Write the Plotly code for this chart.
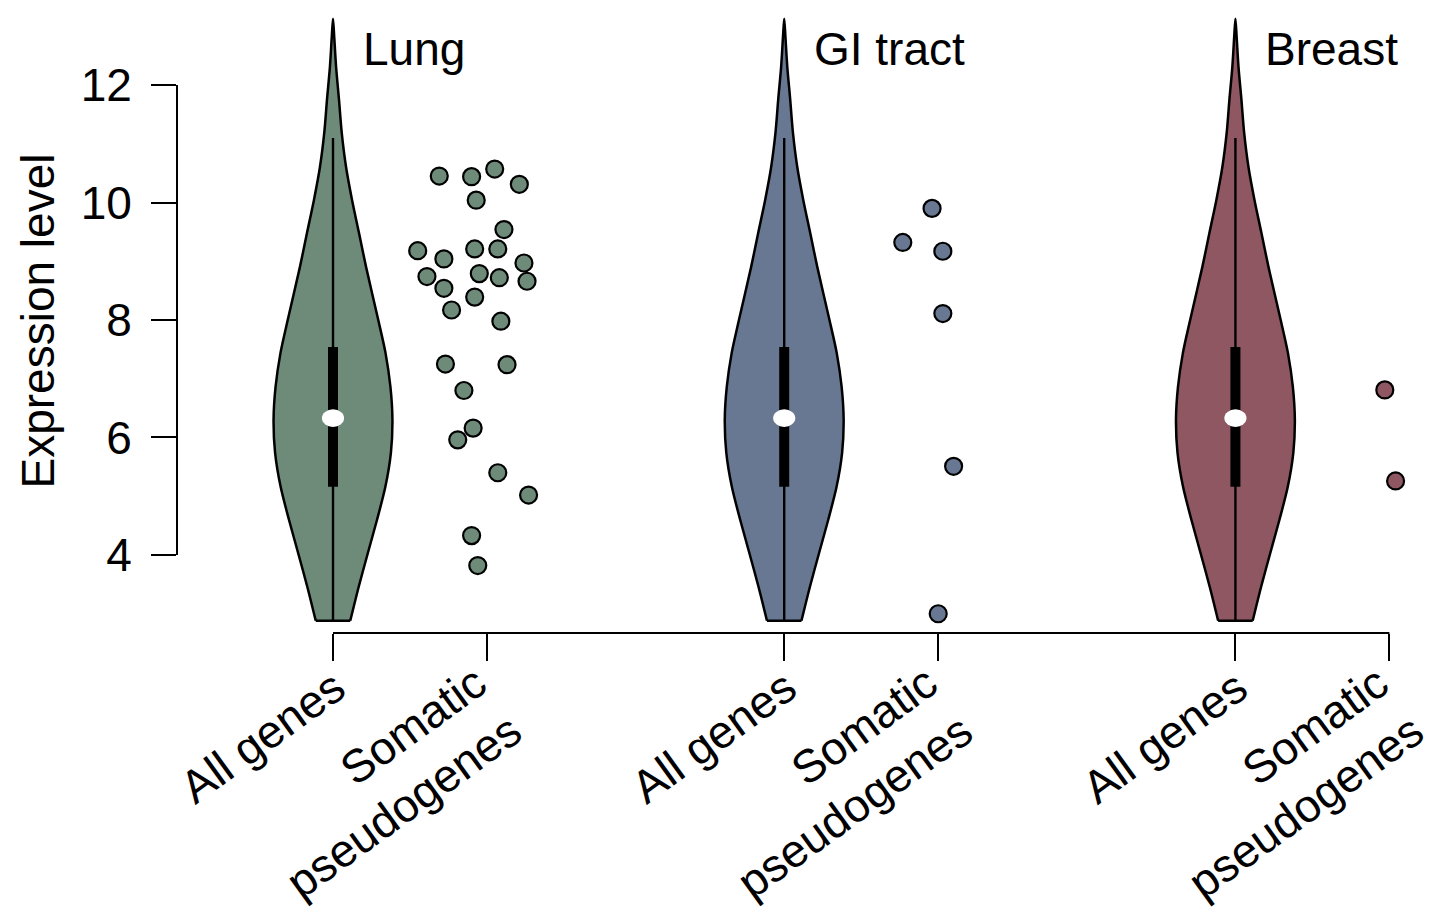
import plotly.graph_objects as go

# ---- data -------------------------------------------------------------
tissues = ["Lung", "GI tract", "Breast"]
group_labels = ["All genes", "Somatic<br>pseudogenes"]
pos_all = [1.0, 3.93, 6.86]        # x position of the "All genes" violin per tissue
pos_som = [2.0, 4.93, 7.86]        # x position of the somatic pseudogene points
fill_colors = ["#6E8B7A", "#697892", "#8E5762"]

# violin outline: expression level and half-width of the density (x units)
violin_level = [2.88, 3.46, 4.03, 4.60, 5.16, 5.74, 6.30, 6.86, 7.44, 8.00,
                8.90, 9.48, 10.04, 10.60, 11.18, 11.75, 12.31, 12.82, 13.13]
violin_halfwidth = [0.112, 0.167, 0.226, 0.286, 0.340, 0.376, 0.386, 0.373, 0.341, 0.294,
                    0.215, 0.169, 0.124, 0.085, 0.057, 0.039, 0.020, 0.008, 0.0]

# box summary for all genes
q1, median, q3 = 5.16, 6.33, 7.54
whisker_low, whisker_high = 2.88, 11.10

# somatic pseudogenes: expression level and horizontal jitter
lung_values = [10.45, 10.44, 10.57, 10.31, 10.04, 9.54, 9.18, 9.21, 9.21, 9.04,
               8.97, 8.74, 8.79, 8.72, 8.66, 8.54, 8.39, 8.17, 7.98, 7.25,
               7.24, 6.80, 6.16, 5.96, 5.40, 5.02, 4.33, 3.82]
lung_jitter = [-0.31, -0.10, 0.05, 0.21, -0.07, 0.11, -0.45, -0.08, 0.07, -0.28,
               0.24, -0.39, -0.05, 0.08, 0.26, -0.28, -0.08, -0.23, 0.09, -0.27,
               0.13, -0.15, -0.09, -0.19, 0.07, 0.27, -0.10, -0.06]
gi_values = [9.90, 9.32, 9.17, 8.11, 5.51, 3.00]
gi_jitter = [-0.04, -0.23, 0.03, 0.03, 0.10, 0.00]
breast_values = [6.81, 5.26]
breast_jitter = [-0.03, 0.04]

yticks = [4, 6, 8, 10, 12]

point_values = [lung_values, gi_values, breast_values]
point_jitter = [lung_jitter, gi_jitter, breast_jitter]

FONT = "Liberation Sans, Arial, Helvetica, sans-serif"
FS = 46

fig = go.Figure()

for i, tissue in enumerate(tissues):
    c = pos_all[i]
    col = fill_colors[i]
    # violin body: right side upward, then left side downward (open at the bottom)
    xs = [c + w for w in violin_halfwidth] + [c - w for w in reversed(violin_halfwidth)][1:]
    ys = violin_level + list(reversed(violin_level))[1:]
    fig.add_trace(go.Scatter(
        x=xs, y=ys, mode="lines", fill="toself", fillcolor=col,
        line=dict(color="black", width=2.5, shape="spline", smoothing=0.8),
        hoverinfo="skip", showlegend=False))
    # flat bottom edge of the violin
    fig.add_trace(go.Scatter(
        x=[c - violin_halfwidth[0], c + violin_halfwidth[0]],
        y=[violin_level[0], violin_level[0]], mode="lines",
        line=dict(color="black", width=2.5), hoverinfo="skip", showlegend=False))
    # whisker
    fig.add_trace(go.Scatter(
        x=[c, c], y=[whisker_low, whisker_high], mode="lines",
        line=dict(color="black", width=2.4), hoverinfo="skip", showlegend=False))
    # interquartile bar
    fig.add_trace(go.Scatter(
        x=[c, c], y=[q1, q3], mode="lines",
        line=dict(color="black", width=10), hoverinfo="skip", showlegend=False))
    # median marker
    fig.add_shape(type="circle", xref="x", yref="y",
                  x0=c - 0.072, x1=c + 0.072, y0=median - 0.15, y1=median + 0.15,
                  fillcolor="white", line=dict(width=0))
    # somatic pseudogene points
    fig.add_trace(go.Scatter(
        x=[pos_som[i] + j for j in point_jitter[i]], y=point_values[i],
        mode="markers",
        marker=dict(size=17, color=col, line=dict(color="black", width=2.2)),
        showlegend=False, cliponaxis=False))
    # tissue title
    fig.add_annotation(x=c, y=12.62, xref="x", yref="y", text=tissue,
                       showarrow=False, xanchor="left", yanchor="middle",
                       xshift=28, font=dict(size=FS, color="black", family=FONT))

# category labels under each tick
tick_pos = []
tick_text = []
for i in range(len(tissues)):
    tick_pos += [pos_all[i], pos_som[i]]
    tick_text += group_labels
for p, t in zip(tick_pos, tick_text):
    two_line = "<br>" in t
    fig.add_annotation(x=p, y=0, xref="x", yref="paper", text=t,
                       showarrow=False, textangle=-36, align="right",
                       xanchor="center", yanchor="middle",
                       xshift=-101 if two_line else -71,
                       yshift=-149 if two_line else -104,
                       borderpad=0,
                       font=dict(size=FS, color="black", family=FONT))

# axis lines spanning only the tick range
fig.add_shape(type="line", xref="paper", yref="y", x0=0, x1=0,
              y0=min(yticks), y1=max(yticks), line=dict(color="black", width=2))
fig.add_shape(type="line", xref="x", yref="paper", x0=min(tick_pos), x1=max(tick_pos),
              y0=0, y1=0, line=dict(color="black", width=2))

# y-axis title
fig.add_annotation(x=0, y=0.5, xref="paper", yref="paper", text="Expression level",
                   showarrow=False, textangle=-90, xanchor="center", yanchor="middle",
                   xshift=-140, font=dict(size=FS, color="black", family=FONT))

fig.update_layout(
    width=1435, height=910,
    margin=dict(l=177, r=0, t=10, b=277),
    paper_bgcolor="white", plot_bgcolor="white",
    font=dict(family=FONT, size=FS, color="black"),
    showlegend=False,
    xaxis=dict(range=[-0.013, 8.156], showgrid=False, zeroline=False, showline=False,
               tickmode="array", tickvals=tick_pos, showticklabels=False,
               ticks="outside", ticklen=27, tickwidth=2, tickcolor="black"),
    yaxis=dict(range=[2.672, 13.277], showgrid=False, zeroline=False, showline=False,
               tickmode="array", tickvals=yticks, ticktext=[str(v) for v in yticks],
               ticks="outside", ticklen=25, tickwidth=2, tickcolor="black",
               ticklabelstandoff=10,
               tickfont=dict(size=FS, family=FONT, color="black")),
)

fig.write_html("out.html")
